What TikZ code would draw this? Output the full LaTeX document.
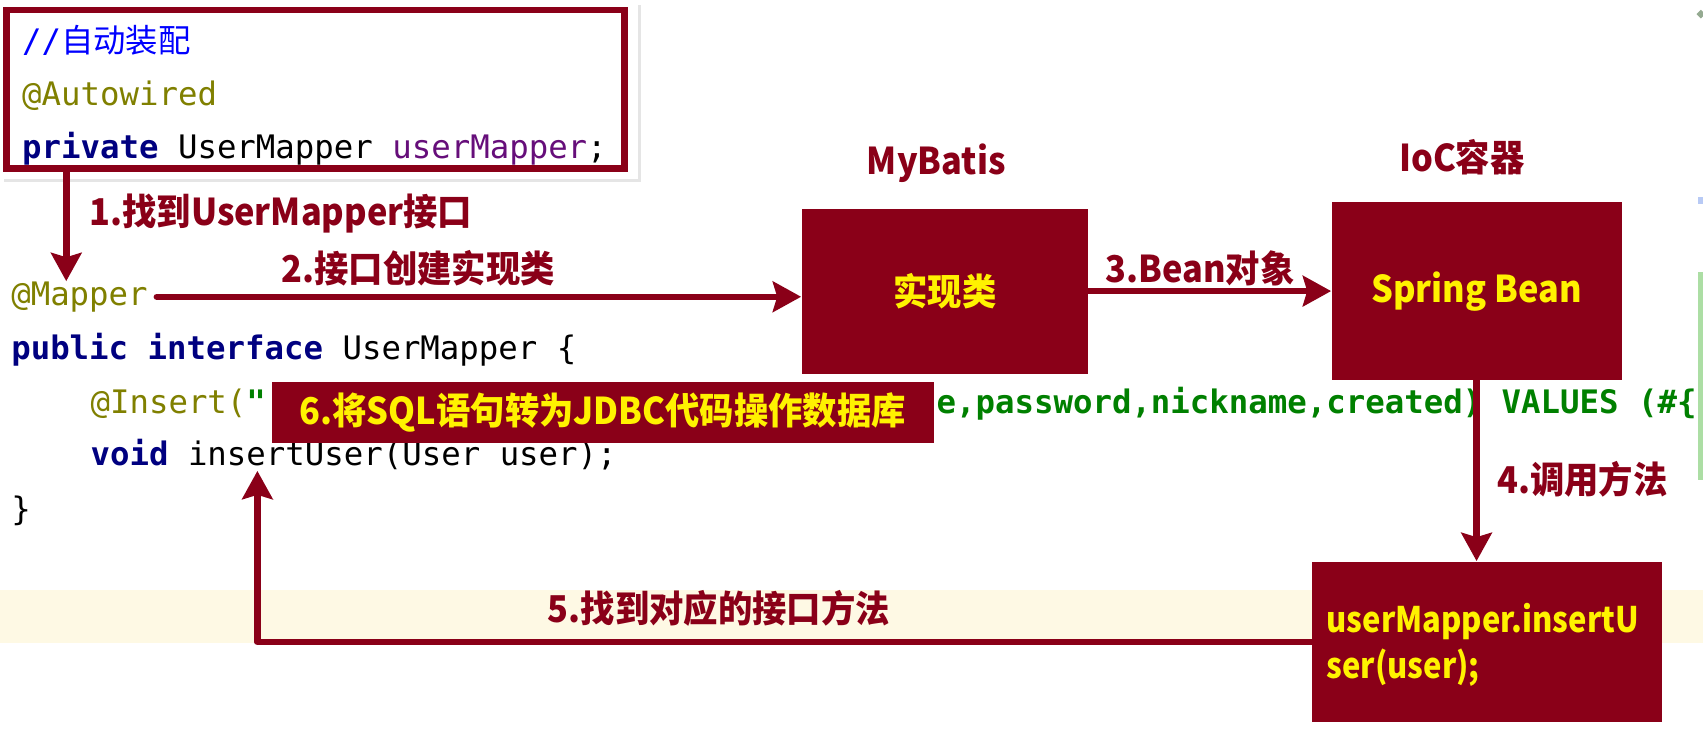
\documentclass[tikz,border=0pt]{standalone}
\usepackage{fontspec}
\usepackage{tikz}
\usetikzlibrary{arrows.meta}
\setmonofont{DejaVu Sans Mono}
\newfontfamily\cjk{Noto Sans CJK SC}
\newfontfamily\cjkbold[FakeStretch=0.93]{Noto Sans CJK SC}
\newfontfamily\cjknarrow[FakeStretch=0.88]{Noto Sans CJK SC}
\definecolor{dred}{RGB}{138,0,24}
\definecolor{navy}{RGB}{0,0,128}
\definecolor{annot}{RGB}{128,128,0}
\definecolor{fpurple}{RGB}{102,14,122}
\definecolor{sgreen}{RGB}{0,128,0}
\definecolor{cblue}{RGB}{0,0,255}
\definecolor{band}{RGB}{254,249,228}
\definecolor{gutgreen}{RGB}{172,222,164}
\definecolor{gutblue}{RGB}{184,202,245}

\begin{document}
\begin{tikzpicture}[x=0.5pt,y=-0.5pt]
\tikzstyle{every node}+=[inner sep=0pt]
\tikzstyle{code}=[anchor=base west, font=\ttfamily\fontsize{14.9}{18}\selectfont]
\tikzstyle{lab}=[font=\cjkbold\bfseries\fontsize{17}{20}\selectfont, text=dred]
\tikzstyle{box}=[fill=dred, text=yellow, font=\cjkbold\bfseries\fontsize{17}{21}\selectfont]
\tikzstyle{flow}=[draw=dred, line width=3pt, line cap=round, -{Stealth[length=13pt,width=14pt,inset=2pt]}]
\useasboundingbox (0,0) rectangle (1568,686);
\clip (0,0) rectangle (1568,686);
\fill[white] (0,0) rectangle (1568,686);
% current line highlight
\fill[band] (0,543) rectangle (1568,592);
% gutter marks
\fill[gutgreen!60!black!70] (1562,13) -- (1566,9) -- (1570,13) -- (1566,17) -- cycle;
\fill[gutblue] (1563,181) rectangle (1568,188);
\fill[gutgreen] (1563,250) rectangle (1568,442);

% autowired snippet
\fill[black!10] (4,5) rectangle (590,168);
\fill[white] (1,1) rectangle (587,165);
\node[code, text=cblue] (comment) at (20,48) {//{\cjk 自动装配}};
\node[code, text=annot] (autowired) at (20,97) {@Autowired};
\node[code] (field) at (20,146) {\textcolor{navy}{\bfseries private} UserMapper \textcolor{fpurple}{userMapper};};
\node[draw=dred, line width=3pt, minimum width=284.5pt, minimum height=73pt] (codebox) at (290.5,82) {};

% mapper interface
\node[code, text=annot] (mapper) at (10,281) {@Mapper};
\node[code] (iface) at (10,331) {\textcolor{navy}{\bfseries public interface} UserMapper \{};
\node[code] (insert) at (83,381) {\textcolor{annot}{@Insert(}\textcolor{sgreen}{\bfseries "}};
\node[code, text=sgreen] (sqltail) at (862,381) {\bfseries e,password,nickname,created) VALUES (\#\{};
\node[code] (voidline) at (83,429) {\textcolor{navy}{\bfseries void} insertUser(User user);};
\node[code] (brace) at (10,479) {\}};

% boxes
\node[box, minimum width=132pt, minimum height=76pt] (impl) at (870,268) {实现类};
\node[box, minimum width=133.5pt, minimum height=82pt] (bean) at (1359.5,268) {Spring Bean};
\node[box, minimum width=161pt, minimum height=74pt] (call) at (1369,591) {};
\node[box, fill=none, anchor=west, align=left, font=\cjknarrow\bfseries\fontsize{16.2}{21}\selectfont] (calltext) at (1221,594) {userMapper.insertU\\ser(user);};
\node[box, minimum width=305pt, minimum height=28pt] (sixbox) at (555,380) {6.将SQL语句转为JDBC代码操作数据库};

% labels
\node[lab] (mybatis) at (862,150) {MyBatis};
\node[lab] (ioc) at (1346,145) {IoC容器};
\node[lab, anchor=west] (find) at (82,197) {1.找到UserMapper接口};
\node[lab] (create) at (385,247) {2.接口创建实现类};
\node[lab] (beanobj) at (1105,247) {3.Bean对象};
\node[lab, anchor=west] (invoke) at (1378,441) {4.调用方法};
\node[lab] (method) at (662,560) {5.找到对应的接口方法};

% connectors
\coordinate (a1) at (61,0);
\coordinate (a5) at (237,0);
\draw[flow] (codebox.south -| a1) -- (mapper.north -| a1);
\draw[flow, shorten <=4pt] (mapper.east) -- (mapper.east -| impl.west);
\draw[flow] (impl.east) -- (bean.west);
\draw[flow] (bean.south) -- (bean.south |- call.north);
\draw[flow, line join=round] (call.west) -- (call.west -| a5) -- (a5 |- voidline.south);
\end{tikzpicture}
\end{document}
